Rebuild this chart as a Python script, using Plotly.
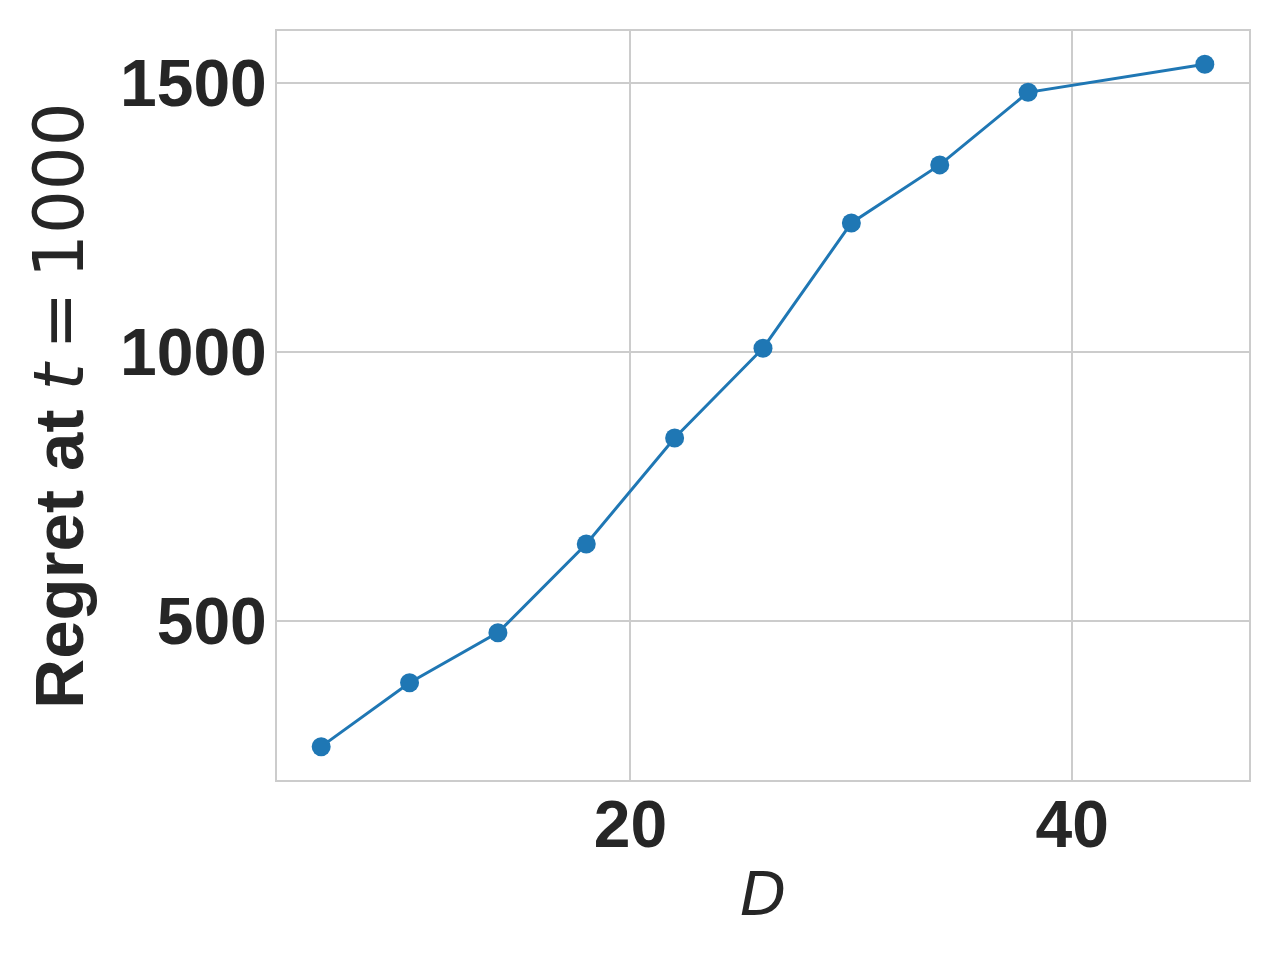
import plotly.graph_objects as go

D_values = [6, 10, 14, 18, 22, 26, 30, 34, 38, 46]
regret_values = [266, 385, 478, 643, 840, 1007, 1240, 1348, 1483, 1535]
x_ticks = [20, 40]
y_ticks = [500, 1000, 1500]

fig = go.Figure()
fig.add_trace(go.Scatter(
    x=D_values, y=regret_values, mode="lines+markers",
    line=dict(color="#1f77b4", width=3),
    marker=dict(color="#1f77b4", size=19),
    showlegend=False,
))

axis_common = dict(
    showgrid=True, gridcolor="#cccccc", gridwidth=1.5,
    showline=True, linecolor="#cccccc", linewidth=2, mirror=True,
    zeroline=False, ticks="",
    tickfont=dict(family="Liberation Sans", size=66, color="#262626"),
)

fig.update_xaxes(
    range=[4, 48], tickvals=x_ticks, ticktext=[f"<b>{v}</b>" for v in x_ticks],
    title=dict(text="<i>D</i>", font=dict(family="DejaVu Sans", size=60, color="#262626"), standoff=13),
    ticklabelstandoff=-14,
    **axis_common,
)
fig.update_yaxes(
    range=[204, 1597], tickvals=y_ticks, ticktext=[f"<b>{v}</b>" for v in y_ticks],
    title=dict(
        text="<b>Regret at </b><span style=\"font-family:'DejaVu Sans'\"><i>t</i>\u2009=\u20091000</span>",
        font=dict(family="Liberation Sans", size=69, color="#262626"), standoff=14,
    ),
    ticklabelstandoff=-5,
    **axis_common,
)

fig.update_layout(
    width=1280, height=960,
    margin=dict(l=269, r=39, t=23, b=188, autoexpand=False),
    plot_bgcolor="white", paper_bgcolor="white",
)

fig.write_html("out.html")
